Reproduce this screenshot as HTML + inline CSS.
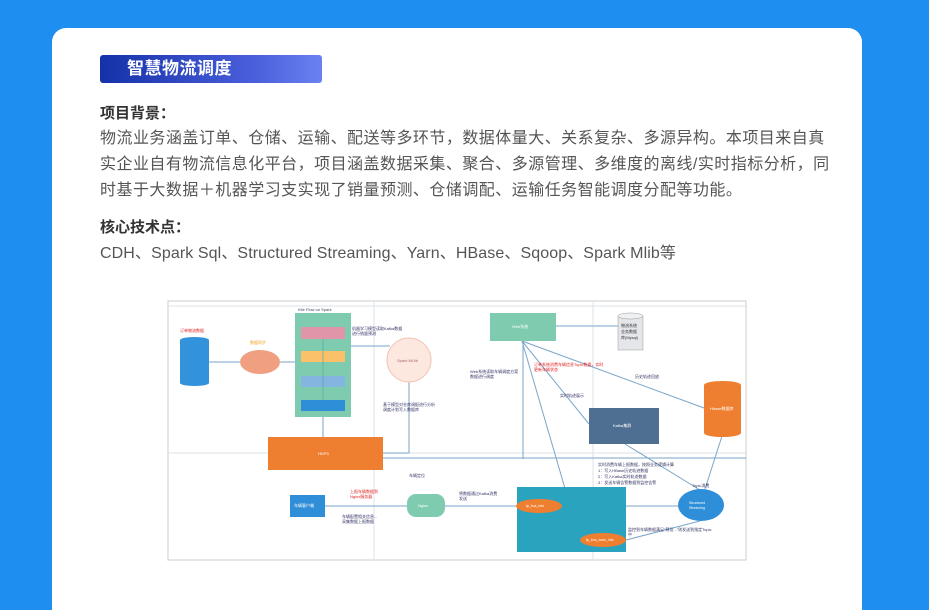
<!DOCTYPE html>
<html style="width:929px;height:610px;overflow:hidden"><head><meta charset="utf-8"><style>
*{margin:0;padding:0}
body{width:929px;height:610px;background:#1e8ef0;position:relative;overflow:hidden;font-family:"Liberation Sans","Noto Sans CJK SC",sans-serif}
.card{position:absolute;left:52px;top:28px;width:810px;height:582px;background:#fff;border-radius:14px 14px 0 0}
.badge{position:absolute;left:100px;top:55px;width:222px;height:28px;border-radius:3px;background:linear-gradient(90deg,#1531a8,#4a5fdc 70%,#6a82f0);color:#fff;font-size:17px;font-weight:bold;line-height:28px;padding-left:27px;box-sizing:border-box;letter-spacing:0.5px}
.h{position:absolute;left:100px;font-size:15px;font-weight:bold;color:#333}
.p{position:absolute;left:100px;font-size:16px;color:#555;line-height:26px;width:760px;white-space:nowrap;letter-spacing:0.47px}
svg{position:absolute;left:0;top:0}
svg text{font-family:"Liberation Sans","Noto Sans CJK SC",sans-serif}
</style></head><body>
<div class="card"></div>
<div class="badge">智慧物流调度</div>
<div class="h" style="top:102px">项目背景：</div>
<div class="p" style="top:126px">物流业务涵盖订单、仓储、运输、配送等多环节，数据体量大、关系复杂、多源异构。本项目来自真<br>实企业自有物流信息化平台，项目涵盖数据采集、聚合、多源管理、多维度的离线/实时指标分析，同<br>时基于大数据＋机器学习支实现了销量预测、仓储调配、运输任务智能调度分配等功能。</div>
<div class="h" style="top:216px">核心技术点：</div>
<div class="p" style="top:241px;letter-spacing:0.1px">CDH、Spark Sql、Structured Streaming、Yarn、HBase、Sqoop、Spark Mlib等</div>
<svg width="929" height="610">
<rect x="168" y="301" width="578" height="259" fill="#fff" stroke="#ccc"/>
<g stroke="#dde3ea" stroke-width="1">
<line x1="374" y1="301" x2="374" y2="560"/><line x1="593" y1="301" x2="593" y2="560"/>
<line x1="168" y1="453" x2="746" y2="453"/><line x1="168" y1="306" x2="746" y2="306"/>
</g>
<g stroke="#7aa6c8" stroke-width="1" fill="none">
<line x1="209" y1="362" x2="240" y2="362"/><line x1="280" y1="362" x2="295" y2="362"/>
<line x1="323" y1="417" x2="323" y2="437"/><line x1="351" y1="346" x2="390" y2="346"/>
<polyline points="409,382 409,453 383,453"/><polyline points="383,458 746,458"/>
<line x1="325" y1="506" x2="407" y2="506"/><line x1="445" y1="506" x2="517" y2="506"/>
<polyline points="523,341 523,459"/>
<line x1="556" y1="326" x2="618" y2="326"/>
<line x1="522" y1="341" x2="704" y2="408"/><line x1="522" y1="341" x2="589" y2="424"/>
<line x1="522" y1="341" x2="580" y2="540"/>
<line x1="625" y1="444" x2="700" y2="490"/><line x1="722" y1="436" x2="705" y2="489"/>
<line x1="562" y1="506" x2="678" y2="506"/><line x1="626" y1="540" x2="700" y2="521"/>
</g>
<rect x="180" y="340" width="29" height="43" fill="#3392dc"/><ellipse cx="194.5" cy="340" rx="14.5" ry="3" fill="#3392dc"/><ellipse cx="194.5" cy="383" rx="14.5" ry="3" fill="#3392dc"/>
<text x="180" y="332" font-size="4" fill="#e02020">订单物流数据</text>
<text x="250" y="344" font-size="4" fill="#f0a020">数据同步</text>
<ellipse cx="260" cy="362" rx="20" ry="12" fill="#f0a080"/>
<rect x="295" y="313" width="56" height="104" fill="#7ecbb0"/>
<text x="298" y="311" font-size="4" fill="#446">Kite Flow on Spark</text>
<rect x="301" y="327" width="44" height="12" fill="#e095a8"/>
<rect x="301" y="351" width="44" height="11" fill="#fbc16a"/>
<rect x="301" y="376" width="44" height="11" fill="#84b4e0"/>
<rect x="301" y="400" width="44" height="11" fill="#2f8ed8"/>
<line x1="323" y1="339" x2="323" y2="400" stroke="#5a9" stroke-width="0.7"/>
<circle cx="409" cy="360" r="22" fill="#fde8e0" stroke="#f4c4b4"/>
<text x="397" y="362" font-size="4" fill="#a66">Spark MLlib</text>
<text x="352" y="330" font-size="4" fill="#336">机器学习模型读取Kafka数据</text>
<text x="352" y="335" font-size="4" fill="#336">进行销量预测</text>
<text x="383" y="406" font-size="4" fill="#336">基于模型对仓库调配进行分析</text>
<text x="383" y="411" font-size="4" fill="#336">调度计划写入数据库</text>
<rect x="268" y="437" width="115" height="33" fill="#ef7f30"/>
<text x="318" y="455" font-size="4" fill="#fff">HDFS</text>
<text x="409" y="477" font-size="4" fill="#336">车辆定位</text>
<rect x="290" y="495" width="35" height="22" fill="#2f8ed8"/>
<text x="294" y="507" font-size="4" fill="#fff">车辆客户端</text>
<text x="350" y="493" font-size="4" fill="#e02020">上报车辆数据到</text><text x="350" y="498" font-size="4" fill="#e02020">Nginx服务器</text>
<text x="342" y="518" font-size="4" fill="#336">车辆配置相关信息...</text><text x="342" y="523" font-size="4" fill="#336">采集数据上报数据</text>
<rect x="407" y="494" width="38" height="23" rx="9" fill="#7ecbb0"/>
<text x="418" y="507" font-size="4" fill="#fff">Nginx</text>
<text x="459" y="495" font-size="4" fill="#336">将数据通过Kafka消费</text><text x="459" y="500" font-size="4" fill="#336">发送</text>
<rect x="490" y="313" width="66" height="28" fill="#7ecbb0"/>
<text x="512" y="328" font-size="4" fill="#fff">Web系统</text>
<rect x="618" y="316" width="25" height="34" fill="#e4e6ea" stroke="#999" stroke-width="0.5"/>
<ellipse cx="630.5" cy="316" rx="12.5" ry="3" fill="#eef0f2" stroke="#999" stroke-width="0.5"/>
<text x="621" y="327" font-size="4" fill="#333">物流系统</text><text x="621" y="333" font-size="4" fill="#333">业务数据</text><text x="621" y="339" font-size="4" fill="#333">库(Mysql)</text>
<text x="470" y="373" font-size="4" fill="#336">Web系统读取车辆调度方案</text><text x="470" y="378" font-size="4" fill="#336">数据进行调度</text>
<text x="534" y="366" font-size="4" fill="#e02020">订单系统消费车辆信息Topic数据，实时</text><text x="534" y="371" font-size="4" fill="#e02020">更新车辆状态</text>
<text x="635" y="378" font-size="4" fill="#336">历史轨迹回放</text>
<text x="560" y="397" font-size="4" fill="#336">实时轨迹展示</text>
<rect x="589" y="408" width="70" height="36" fill="#4e6f92"/>
<text x="613" y="427" font-size="4" fill="#fff">Kafka集群</text>
<rect x="704" y="385" width="37" height="48" fill="#ef7f30"/><ellipse cx="722.5" cy="385" rx="18.5" ry="4" fill="#ef7f30"/><ellipse cx="722.5" cy="433" rx="18.5" ry="4" fill="#ef7f30"/>
<text x="710" y="410" font-size="4" fill="#fff">Hbase数据库</text>
<text x="598" y="466" font-size="4" fill="#336">实时消费车辆上报数据，按照业务逻辑计算</text>
<text x="598" y="472" font-size="4" fill="#336">1：写入HBase历史轨迹数据</text>
<text x="598" y="478" font-size="4" fill="#336">2：写入Kafka实时轨迹数据</text>
<text x="598" y="484" font-size="4" fill="#336">3：发送车辆告警数据到监控告警</text>
<text x="692" y="487" font-size="4" fill="#336">Topic消费</text>
<rect x="517" y="487" width="109" height="65" fill="#2aa3bf"/>
<ellipse cx="539" cy="506" rx="23" ry="7" fill="#ef7f30"/>
<text x="526" y="507" font-size="3.5" fill="#fff">tp_bus_info</text>
<ellipse cx="603" cy="540" rx="23" ry="7" fill="#ef7f30"/>
<text x="586" y="541" font-size="3.5" fill="#fff">tp_bus_warn_info</text>
<ellipse cx="701" cy="505" rx="23" ry="16" fill="#2f8ed8"/>
<text x="689" y="504" font-size="3.5" fill="#fff">Structured</text><text x="689" y="509" font-size="3.5" fill="#fff">Streaming</text>
<text x="628" y="531" font-size="4" fill="#336">监控到车辆数据满足"预设..."则发送到指定Topic</text>
<text x="628" y="536" font-size="4" fill="#336">中</text>
</svg>
</body></html>
